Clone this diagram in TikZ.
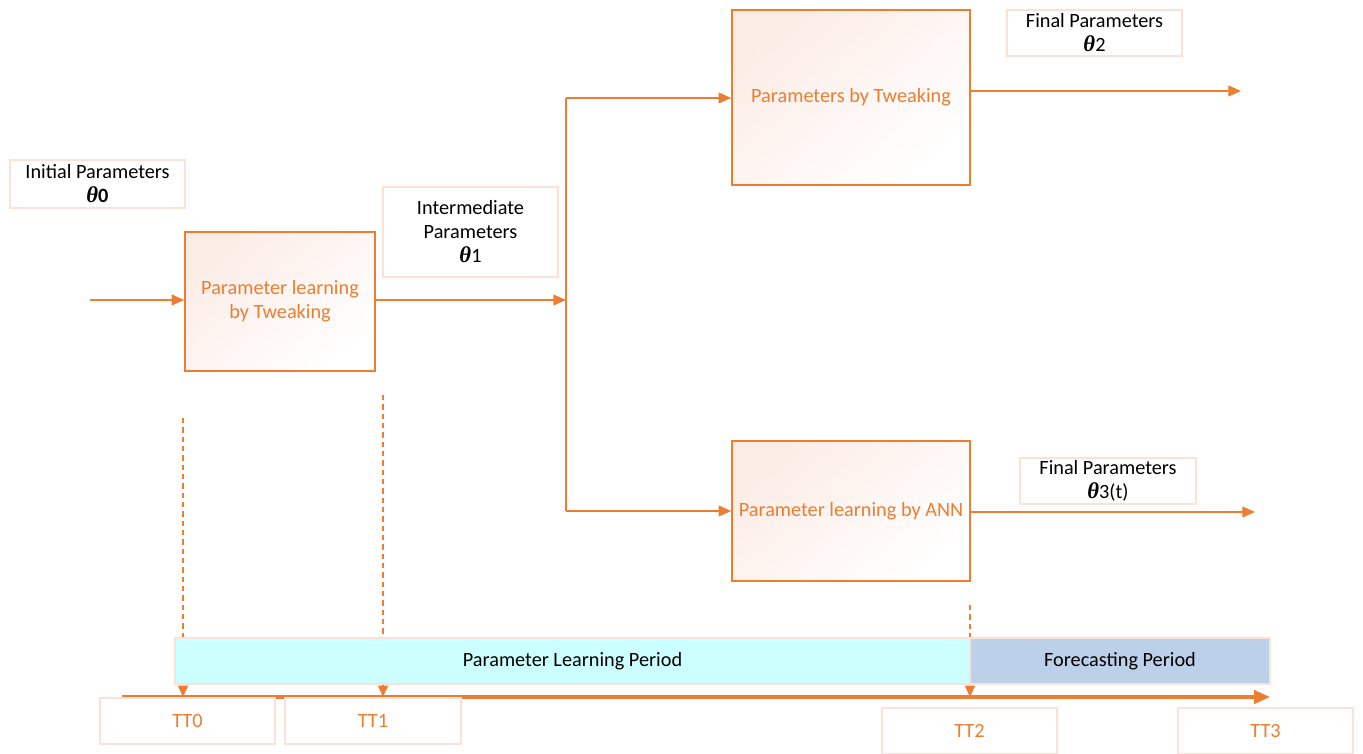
\documentclass[tikz,border=0pt]{standalone}
\usepackage{fontspec}
\setmainfont{Carlito}
\newfontfamily\thetafont{Liberation Serif}
\usetikzlibrary{arrows.meta}
\definecolor{accent}{HTML}{ED7D31}
\definecolor{paleedge}{HTML}{FBE2D9}
\definecolor{blush}{HTML}{FCECE6}
\definecolor{learnfill}{HTML}{CCFFFF}
\definecolor{castfill}{HTML}{BDD0E9}
\newcommand{\thsym}{{\thetafont\bfseries\itshape\fontsize{17}{17}\selectfont θ}}
\tikzset{
  x=0.75pt, y=-0.75pt,
  sized/.style 2 args={minimum width=#1*0.75pt, minimum height=#2*0.75pt, inner sep=0pt},
  procbox/.style={draw=accent, line width=1.1pt, top color=blush, bottom color=white,
    shading angle=40, text=accent, font=\fontsize{15.2}{18}\selectfont, align=center},
  tagbox/.style={draw=paleedge, line width=0.8pt, fill=white, align=center,
    font=\fontsize{15.2}{18}\selectfont},
  periodbox/.style={draw=paleedge, line width=0.8pt, font=\fontsize{15.2}{18}\selectfont},
  timebox/.style={draw=paleedge, line width=0.8pt, fill=white, text=accent,
    font=\fontsize{15.2}{18}\selectfont},
  flow/.style={draw=accent, line width=1.5pt, -{Triangle[length=9.5pt,width=8pt]}},
  tick/.style={draw=accent, line width=1.1pt, dash pattern=on 4pt off 3pt,
    -{Triangle[length=8.5pt,width=7.5pt]}},
}
\begin{document}
\begin{tikzpicture}
\useasboundingbox (0,0) rectangle (1363,753);

% parameter labels
\node[tagbox, sized={175}{48}] (init) at (97.5,184) {Initial Parameters\\\thsym\textbf{0}};
\node[tagbox, sized={175}{90}] (inter) at (470.5,232) {Intermediate\\Parameters\\\thsym1};
\node[tagbox, sized={175}{46}] (fin2) at (1094.5,33) {Final Parameters\\\thsym2};
\node[tagbox, sized={176}{46}] (fin3) at (1108,481) {Final Parameters\\\thsym3(t)};

% processing blocks
\node[procbox, sized={190}{139}] (b1) at (280,301.5) {Parameter learning\\by Tweaking};
\node[procbox, sized={238}{175}] (b2) at (851,97.5) {Parameters by Tweaking};
\node[procbox, sized={238}{140}] (b3) at (851,511) {Parameter learning by ANN};

% free ends and junctions
\coordinate (src) at (90,300);
\coordinate (split) at (566,300);
\coordinate (up) at (566,98);
\coordinate (down) at (566,511);
\coordinate (out2) at (1241,91);
\coordinate (out3) at (1255,512);

\draw[flow] (src) -- (src -| b1.west);
\draw[flow] (b1.east |- split) -- (split);
\draw[draw=accent, line width=1.5pt] (up) -- (down);
\draw[flow] (up) -- (up -| b2.west);
\draw[flow] (down) -- (down -| b3.west);
\draw[flow] (b2.east |- out2) -- (out2);
\draw[flow] (b3.east |- out3) -- (out3);

% time markers
\coordinate (m0) at (183,418);
\coordinate (m1) at (383,395);
\coordinate (m2) at (970,605);
\coordinate (axisL) at (122,697);
\coordinate (axisR) at (1270,697);
\draw[tick] (m0) -- (m0 |- axisL);
\draw[tick] (m1) -- (m1 |- axisL);
\draw[tick] (m2) -- (m2 |- axisL);
\draw[draw=accent, line width=2.6pt, -{Triangle[length=12pt,width=10pt]}] (axisL) -- (axisR);

% periods
\node[periodbox, fill=learnfill, sized={795}{46}] (learn) at (572.5,661) {Parameter Learning Period};
\node[periodbox, fill=castfill, sized={300}{46}] (cast) at (1120,661) {Forecasting Period};

% time labels
\node[timebox, sized={175}{46}] (tt0) at (187.5,721) {TT0};
\node[timebox, sized={176}{46}] (tt1) at (373,721) {TT1};
\node[timebox, sized={175}{46}] (tt2) at (969.5,731) {TT2};
\node[timebox, sized={175}{46}] (tt3) at (1265.5,731) {TT3};
\end{tikzpicture}
\end{document}
